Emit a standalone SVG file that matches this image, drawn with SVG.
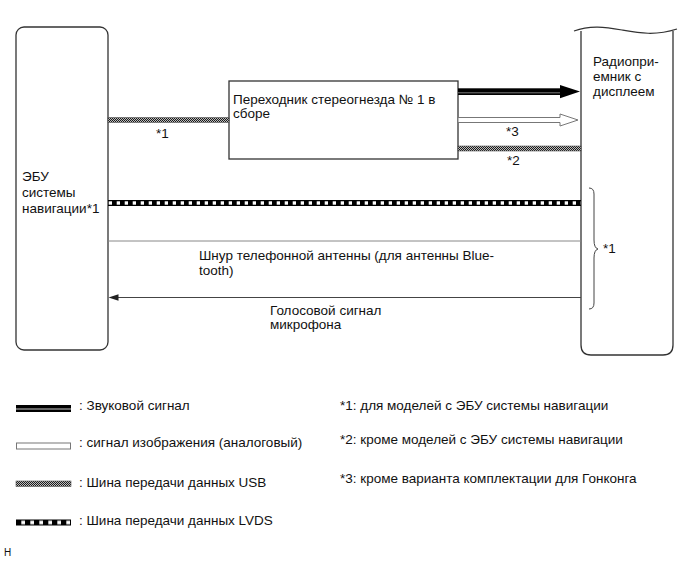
<svg xmlns="http://www.w3.org/2000/svg" width="690" height="561" viewBox="0 0 690 561">
<style>
text{font-family:"Liberation Sans",Arial,sans-serif;font-size:13.5px;fill:#111}
.box{fill:#fff;stroke:#333;stroke-width:1.3}
.usb{fill:url(#usbPat);stroke:#555;stroke-width:0.6}
.lvds{fill:url(#lvdsPat)}
.thin{stroke:#888;stroke-width:1;fill:none}
.mic{stroke:#444;stroke-width:1;fill:none}
.hollow{fill:#fff;stroke:#777;stroke-width:1}
</style>
<defs>
<pattern id="usbPat" patternUnits="userSpaceOnUse" width="2" height="2">
<rect width="2" height="2" fill="#bdbdbd"/>
<rect width="1" height="1" fill="#1a1a1a"/>
<rect x="1" y="1" width="1" height="1" fill="#1a1a1a"/>
</pattern>
<pattern id="lvdsPat" patternUnits="userSpaceOnUse" width="8" height="6" x="0" y="200">
<rect width="8" height="6" fill="#000"/>
<rect x="4.7" y="1.3" width="3.3" height="3.4" fill="#fff"/>
</pattern>
<pattern id="lvdsPatL" patternUnits="userSpaceOnUse" width="9" height="6" x="16" y="519.5">
<rect width="9" height="6" fill="#000"/>
<rect x="5.3" y="1.2" width="3.7" height="3.6" fill="#fff"/>
</pattern>
</defs>

<g id="ecu-nav">
<rect class="box" x="16" y="27" width="92" height="323" rx="8"/>
<text x="22" y="181">ЭБУ</text>
<text x="22" y="197">системы</text>
<text x="22" y="213">навигации*1</text>
</g>

<g id="radio">
<path class="box" d="M581,31 V345 Q581,355 591,355 H663 Q673,355 673,345 V31"/>
<path d="M574,31 C590,25 605,27 622,30 S655,36 677,29" fill="none" stroke="#333" stroke-width="1.2"/>
<text x="593" y="66">Радиопри-</text>
<text x="593" y="81">емник с</text>
<text x="593" y="96">дисплеем</text>
</g>

<g id="adapter">
<rect class="box" x="229" y="81" width="229" height="78"/>
<text x="233" y="104">Переходник стереогнезда № 1 в</text>
<text x="233" y="118">сборе</text>
</g>

<g id="connectors">
<rect class="usb" x="108" y="117.5" width="121" height="5"/>
<text x="156" y="138">*1</text>

<rect x="458" y="88.3" width="104" height="6.7" fill="#000"/>
<line x1="458" y1="92.8" x2="562" y2="92.8" stroke="#999" stroke-width="0.8"/>
<path d="M560,85 L580,91.6 L560,98.2 Z" fill="#000"/>

<path class="hollow" d="M458,117.5 H560 V114 L578,120 L560,126 V122.5 H458 Z"/>
<text x="506" y="136">*3</text>

<rect class="usb" x="458" y="146" width="123" height="5"/>
<text x="507" y="165">*2</text>

<rect class="lvds" x="108" y="200" width="473" height="6"/>

<line class="thin" x1="108" y1="241" x2="581" y2="241"/>
<text x="199" y="260">Шнур телефонной антенны (для антенны Blue-</text>
<text x="199" y="275">tooth)</text>

<line class="mic" x1="581" y1="297.5" x2="118" y2="297.5"/>
<path d="M108.5,297.5 L118.5,294.3 L118.5,300.7 Z" fill="#222"/>
<text x="270" y="315">Голосовой сигнал</text>
<text x="270" y="329">микрофона</text>

<path d="M589,188 Q594,188 594,194 V240 Q594,248 598,249 Q594,250 594,258 V303 Q594,309 589,309" fill="none" stroke="#444" stroke-width="1"/>
<text x="603" y="253">*1</text>
</g>

<g id="legend">
<rect x="16" y="405" width="55" height="7" fill="#000"/>
<line x1="16" y1="409" x2="71" y2="409" stroke="#fff" stroke-width="0.8"/>
<text x="79" y="410">: Звуковой сигнал</text>

<rect class="hollow" x="16.5" y="443" width="54" height="6"/>
<text x="79" y="447">: сигнал изображения (аналоговый)</text>

<rect class="usb" x="16" y="481" width="55" height="5.5"/>
<text x="79" y="487">: Шина передачи данных USB</text>

<rect x="16" y="519.5" width="55" height="6" fill="url(#lvdsPatL)"/>
<text x="79" y="525">: Шина передачи данных LVDS</text>

<text x="340" y="410">*1: для моделей с ЭБУ системы навигации</text>
<text x="340" y="444">*2: кроме моделей с ЭБУ системы навигации</text>
<text x="340" y="483">*3: кроме варианта комплектации для Гонконга</text>

<text x="4" y="556" style="font-size:10px">H</text>
</g>
</svg>
